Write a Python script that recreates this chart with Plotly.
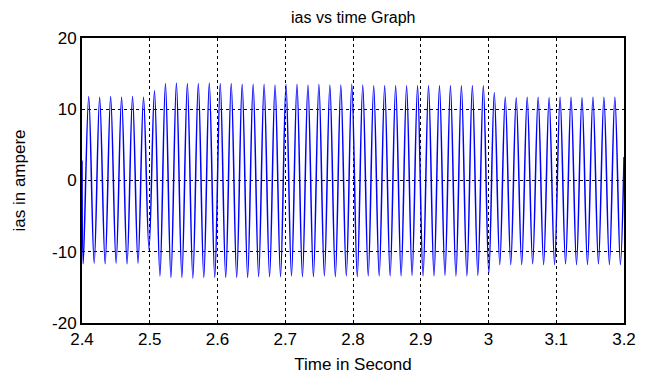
import numpy as np
import plotly.graph_objects as go

# ---- data ----
# current extremes (alternating trough / peak), one per half cycle
ias_extremes = [
    -11.7, 11.8, -11.6, 11.7, -11.7, 11.8, -11.6, 11.7, -11.7, 11.8, -11.6, 11.7,   # 2.40-2.49
    -9.7, 12.6, -13.4, 13.6,                                                           # transition at 2.5
    -13.6, 13.7, -13.6, 13.6, -13.7, 13.6, -13.6, 13.7, -13.6, 13.6, -13.6, 13.6,
    -13.6, 13.5, -13.6, 13.5,                                                          # 2.53-2.66
    -13.5, 13.5, -13.5, 13.4, -13.5, 13.5, -13.4, 13.5, -13.5, 13.4, -13.5, 13.5,
    -13.4, 13.4, -13.5, 13.4, -13.4, 13.5, -13.5, 13.4,                                # 2.66-2.82
    -13.4, 13.3, -13.4, 13.3, -13.4, 13.3, -13.4, 13.3, -13.3, 13.3, -13.4, 13.3,
    -13.4, 13.3, -13.3, 13.3, -13.4, 13.3, -13.4, 13.3, -13.3, 13.3,                   # 2.82-2.99
    -13.0, 12.3,                                                                       # transition at 3.0
    -11.8, 11.7, -11.8, 11.6, -11.8, 11.7, -11.7, 11.7, -11.8, 11.6, -11.8, 11.7,
    -11.7, 11.7, -11.8, 11.6, -11.8, 11.7, -11.7, 11.7, -11.8, 11.7, -11.8,            # 3.02-3.20
]
first_extreme_time = 2.4018   # s, first trough
half_period = 0.00809         # s, between successive extremes
start_time, start_value = 2.4, 2.8
end_time, end_value = 3.2, 3.3

x_ticks = [2.4, 2.5, 2.6, 2.7, 2.8, 2.9, 3.0, 3.1, 3.2]
x_tick_labels = ["2.4", "2.5", "2.6", "2.7", "2.8", "2.9", "3", "3.1", "3.2"]
y_ticks = [-20, -10, 0, 10, 20]
y_tick_labels = ["-20", "-10", "0", "10", "20"]

extreme_times = first_extreme_time + half_period * np.arange(len(ias_extremes))
t = np.concatenate([[start_time], extreme_times, [end_time]])
ias = np.concatenate([[start_value], ias_extremes, [end_value]])

font_family = "Liberation Sans, Arial, sans-serif"

fig = go.Figure()
fig.add_trace(go.Scatter(
    x=t, y=ias, mode="lines",
    line=dict(color="#0000FF", width=1.5, shape="spline", smoothing=1.0),
    showlegend=False, hoverinfo="skip",
))

grid_common = dict(
    showgrid=True, gridcolor="black", gridwidth=1, griddash="3px,3px",
    zeroline=False, showline=True, linecolor="black", linewidth=2, mirror=True,
    ticks="", tickfont=dict(family=font_family, size=17, color="black"),
)

fig.update_xaxes(
    range=[2.4, 3.2], tickmode="array", tickvals=x_ticks, ticktext=x_tick_labels,
    title=dict(text="Time in Second", font=dict(family=font_family, size=17, color="black"), standoff=10),
    **grid_common,
)
fig.update_yaxes(
    range=[-20, 20], tickmode="array", tickvals=y_ticks, ticktext=y_tick_labels,
    title=dict(text="ias in ampere", font=dict(family=font_family, size=17, color="black"), standoff=22),
    **grid_common,
)

fig.update_layout(
    width=650, height=383,
    margin=dict(l=82, r=26, t=38, b=58),
    paper_bgcolor="white", plot_bgcolor="white",
    title=dict(text="ias vs time Graph", x=0.5435, xanchor="center", y=0.955, yanchor="middle",
               font=dict(family=font_family, size=16, color="black")),
)

fig.write_html("out.html")
